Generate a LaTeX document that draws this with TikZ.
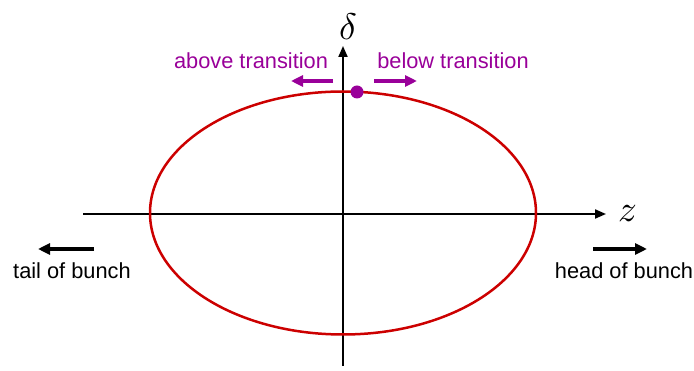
\documentclass[tikz,border=0pt]{standalone}
\usepackage{fontspec}
\setmainfont{Liberation Sans}
\usepackage{graphicx}
\usepackage{xcolor}
\usetikzlibrary{arrows.meta,positioning}
\definecolor{orbitred}{HTML}{CC0000}
\definecolor{shiftpurple}{HTML}{990099}
\newcommand{\biglbl}[1]{\scalebox{3.7}{$#1$}}

\begin{document}
\begin{tikzpicture}[
  x=1pt, y=-1pt,
  every node/.style={font=\fontsize{21.8}{26}\selectfont, inner sep=0pt},
  axis/.style={-{Triangle[length=11pt,width=9pt]}, line width=2pt, draw=black},
  dirarr/.style={-{Triangle[length=12pt,width=11pt]}, line width=3.5pt},
  mathlbl/.style={font=\normalsize}
]
\useasboundingbox (0,0) rectangle (694,371);
% axes
\coordinate (zstart) at (83,214);
\coordinate (zend) at (606,214);
\coordinate (dstart) at (343,366);
\coordinate (dend) at (343,46);
\draw[axis] (zstart) -- (zend);
\draw[axis] (dstart) -- (dend);
\node[mathlbl, right=12pt of zend] (zlbl) {\biglbl{z}};
\node[mathlbl, above=6pt of dend, xshift=5pt] (dlbl) {\biglbl{\delta}};
% phase space ellipse
\draw[orbitred, line width=2.5pt] (343,213) ellipse [x radius=193, y radius=121.5];
\fill[shiftpurple] (357,92) circle (6.5) coordinate (dot);
% transition arrows
\coordinate (aboveS) at (333,81);
\coordinate (aboveE) at (291,81);
\coordinate (belowS) at (374,81);
\coordinate (belowE) at (417,81);
\draw[dirarr, shiftpurple] (aboveS) -- (aboveE);
\draw[dirarr, shiftpurple] (belowS) -- (belowE);
\node[text=shiftpurple] (above) at (251,61) {above transition};
\node[text=shiftpurple] (below) at (453,61) {below transition};
% bunch direction
\coordinate (tailS) at (94,249);
\coordinate (tailE) at (38,249);
\coordinate (headS) at (593,249);
\coordinate (headE) at (647,249);
\draw[dirarr] (tailS) -- (tailE);
\draw[dirarr] (headS) -- (headE);
\node (tail) at (72,271) {tail of bunch};
\node (head) at (624,271) {head of bunch};
\end{tikzpicture}
\end{document}
